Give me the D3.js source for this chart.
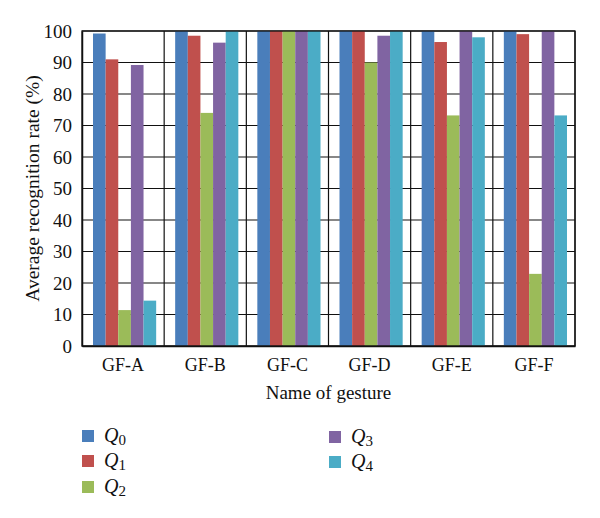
<!DOCTYPE html>
<html>
<head>
<meta charset="utf-8">
<script src="https://cdn.jsdelivr.net/npm/d3@7"></script>
<style>
  body { margin: 0; background: #fff; }
  text { font-family: "Liberation Serif", "DejaVu Serif", serif; fill: #111; }
</style>
</head>
<body>
<div id="chart"></div>
<script>
var svgWidth = 600;
var svgHeight = 518;

var margin = { top: 31, right: 25, bottom: 172, left: 82 };
var width = svgWidth - margin.left - margin.right;
var height = svgHeight - margin.top - margin.bottom;

// data
var gestures = ["GF-A", "GF-B", "GF-C", "GF-D", "GF-E", "GF-F"];
var seriesNames = ["0", "1", "2", "3", "4"];
var q0 = [99.2, 100, 100, 100, 100, 100];
var q1 = [91.0, 98.5, 100, 100, 96.5, 99.0];
var q2 = [11.4, 74.0, 100, 90.0, 73.2, 22.9];
var q3 = [89.2, 96.3, 100, 98.5, 100, 100];
var q4 = [14.4, 100, 100, 100, 98.0, 73.2];
var yTicks = [0, 10, 20, 30, 40, 50, 60, 70, 80, 90, 100];
var colors = ["#4a7ebb", "#c0504d", "#9bbb59", "#8064a2", "#4bacc6"];

var allSeries = [q0, q1, q2, q3, q4];

var svg = d3.select("#chart").append("svg")
  .attr("width", svgWidth)
  .attr("height", svgHeight);

var chartGroup = svg.append("g")
  .attr("transform", `translate(${margin.left}, ${margin.top})`);

var x0 = d3.scaleBand().domain(gestures).range([0, width]).paddingInner(0).paddingOuter(0);
var x1 = d3.scaleBand().domain(seriesNames).range([11, x0.bandwidth() - 8]).padding(0);
var y = d3.scaleLinear().domain([0, 100]).range([height, 0]);

// horizontal grid
chartGroup.append("g")
  .selectAll("line")
  .data(yTicks)
  .enter()
  .append("line")
  .attr("x1", 0)
  .attr("x2", width)
  .attr("y1", d => y(d))
  .attr("y2", d => y(d))
  .attr("stroke", "#111")
  .attr("stroke-width", 1.2);

// vertical grid between categories
chartGroup.append("g")
  .selectAll("line")
  .data(gestures)
  .enter()
  .append("line")
  .attr("x1", d => x0(d) + x0.bandwidth())
  .attr("x2", d => x0(d) + x0.bandwidth())
  .attr("y1", 0)
  .attr("y2", height)
  .attr("stroke", "#111")
  .attr("stroke-width", 1.2);

// bars
var groups = chartGroup.selectAll(".gesture")
  .data(gestures)
  .enter()
  .append("g")
  .attr("transform", d => `translate(${x0(d)}, 0)`);

groups.selectAll("rect")
  .data((d, i) => allSeries.map((s, j) => ({ key: seriesNames[j], value: s[i], color: colors[j] })))
  .enter()
  .append("rect")
  .attr("x", d => x1(d.key))
  .attr("width", x1.bandwidth())
  .attr("y", d => y(d.value))
  .attr("height", d => height - y(d.value))
  .attr("fill", d => d.color);

// axes
var leftAxis = d3.axisLeft(y).tickValues(yTicks).tickSize(0).tickPadding(10);
var yAxis = chartGroup.append("g").call(leftAxis);
yAxis.select(".domain").attr("stroke", "#111").attr("stroke-width", 1.5);
yAxis.selectAll("text")
  .style("font-family", "'Liberation Serif', serif")
  .style("font-size", "19px")
  .attr("fill", "#111");

var bottomAxis = d3.axisBottom(x0).tickSize(0).tickPadding(12);
var xAxis = chartGroup.append("g")
  .attr("transform", `translate(0, ${height})`)
  .call(bottomAxis);
xAxis.select(".domain").attr("stroke", "#111").attr("stroke-width", 1.5);
xAxis.selectAll("text")
  .style("font-family", "'Liberation Serif', serif")
  .style("font-size", "18px")
  .attr("fill", "#111");

// frame on top/right
chartGroup.append("rect")
  .attr("width", width)
  .attr("height", height)
  .attr("fill", "none")
  .attr("stroke", "#111")
  .attr("stroke-width", 1.3);

// axis titles
svg.append("text")
  .attr("x", margin.left + width / 2)
  .attr("y", 399)
  .attr("text-anchor", "middle")
  .style("font-size", "19px")
  .text("Name of gesture");

svg.append("text")
  .attr("transform", `translate(39, ${margin.top + height / 2}) rotate(-90)`)
  .attr("text-anchor", "middle")
  .style("font-size", "19.5px")
  .text("Average recognition rate (%)");

// legend
var legendPos = [[82, 436], [82, 461], [82, 487], [329, 437], [329, 462]];
var legend = svg.append("g")
  .selectAll("g")
  .data(seriesNames)
  .enter()
  .append("g")
  .attr("transform", (d, i) => `translate(${legendPos[i][0]}, ${legendPos[i][1]})`);

legend.append("rect")
  .attr("x", 0)
  .attr("y", -6)
  .attr("width", 12)
  .attr("height", 12)
  .attr("fill", (d, i) => colors[i]);

var lt = legend.append("text")
  .attr("x", 22)
  .attr("y", 6)
  .style("font-size", "20px");
lt.append("tspan").style("font-style", "italic").text("Q");
lt.append("tspan").attr("dy", 3).style("font-size", "15px").text(d => d);
</script>
</body>
</html>
